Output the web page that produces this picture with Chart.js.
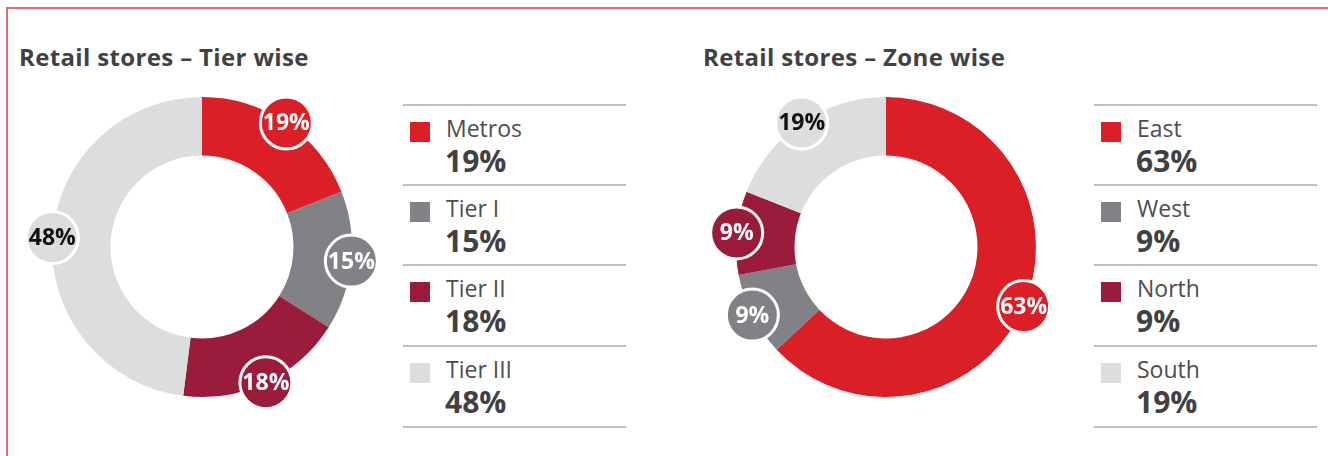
<!DOCTYPE html>
<html>
<head>
<meta charset="utf-8">
<script src="https://cdn.jsdelivr.net/npm/chart.js@4.4.1/dist/chart.umd.min.js"></script>
<style>
  body { margin: 0; width: 1328px; height: 456px; overflow: hidden; background: #fff; font-family: "Open Sans", sans-serif; color: #414042; }
  .frame { position: absolute; left: 6px; top: 7px; width: 1400px; height: 500px; border-left: 2px solid #e5666b; border-top: 2px solid #e5666b; }
  .title { position: absolute; font-weight: 700; font-size: 24px; line-height: 24px; letter-spacing: 0.35px; white-space: nowrap; }
  .cv { position: absolute; top: 67px; width: 360px; height: 360px; }
  .rule { position: absolute; height: 2px; background: #bcbec0; }
  .sq { position: absolute; width: 20px; height: 20px; }
  .lbl { position: absolute; font-size: 23px; line-height: 23px; color: #4d4d4f; white-space: nowrap; }
  .pct { position: absolute; font-size: 30px; line-height: 30px; font-weight: 700; color: #414042; white-space: nowrap; }
</style>
</head>
<body>
<div class="frame"></div>
<div class="title" style="left:19px; top:45px">Retail stores – Tier wise</div>
<div class="title" style="left:703px; top:45px">Retail stores – Zone wise</div>
<canvas id="tier" class="cv" style="left:22px"></canvas>
<canvas id="zone" class="cv" style="left:706px"></canvas>
<div id="legends"></div>
<script>
const tierLabels = ["Metros", "Tier I", "Tier II", "Tier III"];
const tierValues = [19, 15, 18, 48];
const zoneLabels = ["East", "West", "North", "South"];
const zoneValues = [63, 9, 9, 19];
const colors = ["#da1f26", "#808285", "#9b1b3b", "#dcddde"];
const labelText = ["#ffffff", "#ffffff", "#ffffff", "#111111"];

// circle badges on the ring, at each slice's middle angle
const badgePlugin = {
  id: "badges",
  afterDatasetsDraw(chart) {
    const ctx = chart.ctx;
    const meta = chart.getDatasetMeta(0);
    const values = chart.data.datasets[0].data;
    meta.data.forEach((arc, i) => {
      const p = arc.getProps(["x", "y", "startAngle", "endAngle", "outerRadius"], true);
      const mid = (p.startAngle + p.endAngle) / 2;
      const cx = p.x + Math.cos(mid) * p.outerRadius;
      const cy = p.y + Math.sin(mid) * p.outerRadius;
      ctx.save();
      ctx.beginPath();
      ctx.arc(cx, cy, 26, 0, Math.PI * 2);
      ctx.fillStyle = colors[i];
      ctx.fill();
      ctx.lineWidth = 3;
      ctx.strokeStyle = "#ffffff";
      ctx.stroke();
      ctx.fillStyle = labelText[i];
      ctx.font = "bold 23px 'Open Sans'";
      ctx.textAlign = "center";
      ctx.textBaseline = "middle";
      ctx.fillText(values[i] + "%", cx, cy + 1);
      ctx.restore();
    });
  }
};

function makeDonut(id, labels, values) {
  new Chart(document.getElementById(id), {
    type: "doughnut",
    data: {
      labels: labels,
      datasets: [{ data: values, backgroundColor: colors, borderWidth: 0 }]
    },
    options: {
      responsive: false,
      animation: false,
      cutout: "61%",
      layout: { padding: 30 },
      plugins: { legend: { display: false }, tooltip: { enabled: false } }
    },
    plugins: [badgePlugin]
  });
}

function makeLegend(x, labels, values) {
  const box = document.getElementById("legends");
  const lines = [105, 185, 265, 346, 427];
  lines.forEach(y => {
    const r = document.createElement("div");
    r.className = "rule";
    r.style.cssText = `left:${x}px; top:${y - 1}px; width:223px`;
    box.appendChild(r);
  });
  labels.forEach((name, i) => {
    const top = lines[i];
    const sq = document.createElement("div");
    sq.className = "sq";
    sq.style.cssText = `left:${x + 7}px; top:${top + 17}px; background:${colors[i]}`;
    box.appendChild(sq);
    const l = document.createElement("div");
    l.className = "lbl";
    l.textContent = name;
    l.style.cssText = `left:${x + 43}px; top:${top + 12}px`;
    box.appendChild(l);
    const p = document.createElement("div");
    p.className = "pct";
    p.textContent = values[i] + "%";
    p.style.cssText = `left:${x + 42}px; top:${top + 41}px`;
    box.appendChild(p);
  });
}

makeDonut("tier", tierLabels, tierValues);
makeDonut("zone", zoneLabels, zoneValues);
makeLegend(403, tierLabels, tierValues);
makeLegend(1094, zoneLabels, zoneValues);
</script>
</body>
</html>
